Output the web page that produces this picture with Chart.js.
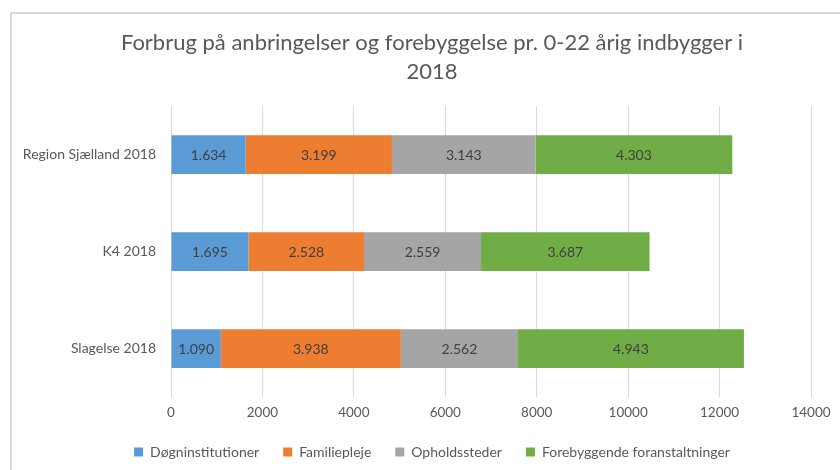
<!DOCTYPE html>
<html>
<head>
<meta charset="utf-8">
<script src="https://cdn.jsdelivr.net/npm/chart.js@4.4.1/dist/chart.umd.min.js"></script>
<style>
  body { margin: 0; background: #fff; overflow: hidden; width: 840px; height: 470px; }
  .frame { position: absolute; left: 10px; top: 12px; width: 900px; height: 520px; border: 2px solid #d9d9d9; }
  #myChart { position: absolute; left: 11px; top: 12px; }
</style>
</head>
<body>
<div class="frame"></div>
<canvas id="myChart" width="842" height="470"></canvas>
<script>
// data
const categories = ['Region Sjælland 2018', 'K4 2018', 'Slagelse 2018'];
const seriesNames = ['Døgninstitutioner', 'Familiepleje', 'Opholdssteder', 'Forebyggende foranstaltninger'];
const dognValues = [1634, 1695, 1090];
const familieValues = [3199, 2528, 3938];
const opholdValues = [3143, 2559, 2562];
const forebygValues = [4303, 3687, 4943];
const xTicks = [0, 2000, 4000, 6000, 8000, 10000, 12000, 14000];

const colors = ['#5B9BD5', '#ED7D31', '#A5A5A5', '#70AD47'];
const textGrey = '#595959';
const fontFamily = 'Lato, "Open Sans", sans-serif';

const fmt = (v) => String(v).replace(/\B(?=(\d{3})+(?!\d))/g, '.');

// draws the value in the middle of every bar segment
const barLabels = {
  id: 'barLabels',
  afterDatasetsDraw(chart) {
    const ctx = chart.ctx;
    ctx.save();
    ctx.font = '14px ' + fontFamily;
    ctx.fillStyle = '#404040';
    ctx.textAlign = 'center';
    ctx.textBaseline = 'middle';
    chart.data.datasets.forEach((ds, i) => {
      chart.getDatasetMeta(i).data.forEach((bar, j) => {
        const p = bar.getProps(['x', 'y', 'base'], true);
        ctx.fillText(fmt(ds.data[j]), (p.x + p.base) / 2, p.y + 1);
      });
    });
    ctx.restore();
  }
};

const allValues = [dognValues, familieValues, opholdValues, forebygValues];

const myChart = new Chart(document.getElementById('myChart').getContext('2d'), {
  type: 'bar',
  data: {
    labels: categories,
    datasets: seriesNames.map((name, i) => ({
      label: name,
      data: allValues[i],
      backgroundColor: colors[i],
      borderWidth: 0,
      barPercentage: 0.5,
      categoryPercentage: 0.8
    }))
  },
  plugins: [barLabels],
  options: {
    indexAxis: 'y',
    responsive: false,
    animation: false,
    layout: { padding: { left: 0, right: 0, top: 7, bottom: 13 } },
    scales: {
      x: {
        stacked: true,
        min: 0,
        max: 14000,
        afterBuildTicks(scale) {
          scale.ticks = xTicks.map(v => ({ value: v }));
        },
        ticks: {
          color: textGrey,
          font: { family: fontFamily, size: 13.5 },
          padding: 8,
          callback: (v) => String(v)
        },
        grid: { color: '#d9d9d9', lineWidth: 1, drawTicks: false },
        border: { display: false },
        afterFit(scale) { scale.height = 24; }
      },
      y: {
        stacked: true,
        ticks: {
          color: textGrey,
          font: { family: fontFamily, size: 14 },
          padding: 15
        },
        grid: { display: false, drawTicks: false },
        border: { display: false },
        afterFit(scale) { scale.width = 160; }
      },
      // empty right-hand axis, only keeps the plot off the right edge
      y2: {
        type: 'category',
        labels: categories,
        position: 'right',
        ticks: { display: false },
        grid: { display: false, drawTicks: false },
        border: { display: false },
        afterFit(scale) { scale.width = 42; }
      }
    },
    plugins: {
      title: {
        display: true,
        text: ['Forbrug på anbringelser og forebyggelse pr. 0-22 årig indbygger i', '2018'],
        color: textGrey,
        font: { family: fontFamily, size: 22, weight: 'normal', lineHeight: 1.3 },
        padding: { top: 10, bottom: 20 }
      },
      legend: {
        position: 'bottom',
        labels: {
          color: textGrey,
          font: { family: fontFamily, size: 14 },
          boxWidth: 9,
          boxHeight: 9,
          padding: 24
        }
      },
      tooltip: { enabled: false }
    }
  }
});
</script>
</body>
</html>
